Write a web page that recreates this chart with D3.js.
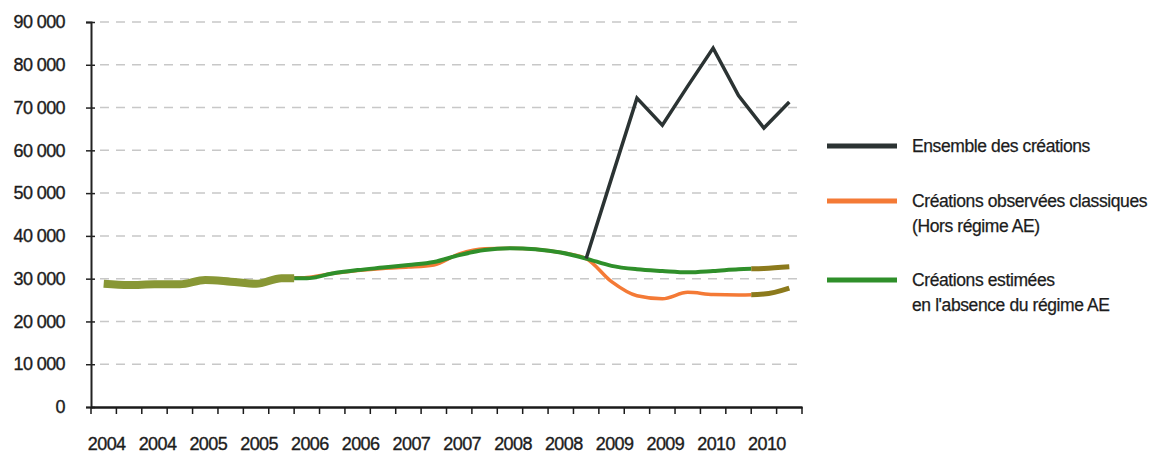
<!DOCTYPE html>
<html>
<head>
<meta charset="utf-8">
<script src="https://cdn.jsdelivr.net/npm/d3@7"></script>
<style>
  body { margin: 0; background: #fff; }
  svg { font-family: "Liberation Sans", Arial, sans-serif; }
  .tick text { fill: #1c1c1c; }
</style>
</head>
<body>
<svg id="chart"></svg>
<script>
// quarters 2004 T1 .. 2010 T4
const years = [2004, 2005, 2006, 2007, 2008, 2009, 2010];
const quarters = years.flatMap(y => [1, 2, 3, 4].map(q => `${y} T${q}`));
// one label every two quarters
const tickLabels = quarters.filter((d, i) => i % 2 === 0);
const yTicks = [0, 10000, 20000, 30000, 40000, 50000, 60000, 70000, 80000, 90000];

const classiques = [28800, 28500, 28700, 28700, 29700, 29300, 28800, 30100,
                    30300, 31200, 31900, 32400, 32700, 33200, 35800, 37000,
                    37100, 36850, 36100, 34700, 29300, 26000, 25300, 26800,
                    26300, 26200, 26400, 27800];
const estimees = [28800, 28500, 28700, 28700, 29700, 29300, 28800, 30100,
                  30100, 31200, 32000, 32600, 33200, 33900, 35500, 36700,
                  37100, 36850, 36100, 34700, 33000, 32200, 31800, 31500,
                  31800, 32200, 32400, 32800];
const ensemble = [null, null, null, null, null, null, null, null,
                  null, null, null, null, null, null, null, null,
                  null, null, null, 34700, 53500, 72200, 65900, 75000,
                  83900, 72800, 65200, 71300];

const legendLabels = [
    ["Ensemble des créations"],
    ["Créations observées classiques", "(Hors régime AE)"],
    ["Créations estimées", "en l'absence du régime AE"]
];

// first quarters shown as one merged line, last two as provisional
const mergedUntil = "2006 T1";
const provisionalFrom = "2010 T3";

const width = 1159, height = 457;
const colors = { ensemble: "#2b3333", classiques: "#f47a36", estimees: "#2f8f2a",
                 merged: "#889735", provisional: "#8c7a1c" };

const svg = d3.select("#chart").attr("width", width).attr("height", height);

const x = d3.scaleBand().domain(quarters).range([91, 802]).padding(0);
const y = d3.scaleLinear().domain([0, 90000]).range([407, 22]);
const cx = d => x(d) + x.bandwidth() / 2;

const fr = d3.formatLocale({ decimal: ",", thousands: " ", grouping: [3] }).format(",d");

// grid
svg.append("g").selectAll("line")
    .data(yTicks.filter(v => v > 0))
    .join("line")
    .attr("x1", x.range()[0] + 9).attr("x2", x.range()[1])
    .attr("y1", d => y(d)).attr("y2", d => y(d))
    .attr("stroke", "#c8c8c8").attr("stroke-width", 1.5)
    .attr("stroke-dasharray", "9 7");

// y axis
const yAxis = svg.append("g")
    .attr("transform", `translate(${x.range()[0]},0)`)
    .call(d3.axisLeft(y).tickValues(yTicks).tickFormat(fr).tickSize(5).tickPadding(20));
yAxis.select(".domain").attr("stroke", "#222").attr("stroke-width", 2);
yAxis.selectAll(".tick line").attr("x1", 4).attr("stroke", "#222").attr("stroke-width", 1.5);
yAxis.selectAll(".tick text").attr("x", -26).attr("font-size", 18).attr("letter-spacing", -0.6)
    .attr("stroke", "#1c1c1c").attr("stroke-width", 0.35);

// x axis
const xAxis = svg.append("g")
    .attr("transform", `translate(0,${y(0)})`)
    .call(d3.axisBottom(x).tickValues(tickLabels).tickFormat(d => d.slice(0, 4))
        .tickSize(0).tickPadding(30));
xAxis.select(".domain").attr("stroke", "#1a1a1a").attr("stroke-width", 2.5);
xAxis.selectAll(".tick text").attr("font-size", 18).attr("letter-spacing", -0.6)
    .attr("dx", 3).attr("stroke", "#1c1c1c").attr("stroke-width", 0.35);
xAxis.selectAll("line.edge")
    .data(quarters.map(q => x(q)).concat([x.range()[1]]))
    .join("line").attr("class", "edge")
    .attr("x1", d => d).attr("x2", d => d)
    .attr("y1", 0).attr("y2", 7)
    .attr("stroke", "#1a1a1a").attr("stroke-width", 1.5);

// lines
const smooth = d3.line()
    .defined(d => d.v != null)
    .x(d => cx(d.q)).y(d => y(d.v))
    .curve(d3.curveMonotoneX);
const straight = d3.line()
    .defined(d => d.v != null)
    .x(d => cx(d.q)).y(d => y(d.v));

const pts = arr => arr.map((v, i) => ({ q: quarters[i], v }));

const defs = svg.append("defs");
defs.append("clipPath").attr("id", "clipMain").append("rect")
    .attr("x", x(mergedUntil)).attr("y", 0)
    .attr("width", x(provisionalFrom) - x(mergedUntil)).attr("height", height);
defs.append("clipPath").attr("id", "clipStart").append("rect")
    .attr("x", 0).attr("y", 0).attr("width", x(mergedUntil)).attr("height", height);
defs.append("clipPath").attr("id", "clipEnd").append("rect")
    .attr("x", x(provisionalFrom)).attr("y", 0)
    .attr("width", width - x(provisionalFrom)).attr("height", height);

const plot = svg.append("g");

plot.append("path").datum(pts(classiques))
    .attr("clip-path", "url(#clipMain)")
    .attr("d", smooth).attr("fill", "none")
    .attr("stroke", colors.classiques).attr("stroke-width", 3.5);

plot.append("path").datum(pts(estimees))
    .attr("clip-path", "url(#clipMain)")
    .attr("d", smooth).attr("fill", "none")
    .attr("stroke", colors.estimees).attr("stroke-width", 4);

// merged start (all series equal)
plot.append("path").datum(pts(estimees))
    .attr("clip-path", "url(#clipStart)")
    .attr("d", smooth).attr("fill", "none")
    .attr("stroke", colors.merged).attr("stroke-width", 8);

// provisional end
[classiques, estimees].forEach(s => {
    plot.append("path").datum(pts(s))
        .attr("clip-path", "url(#clipEnd)")
        .attr("d", smooth).attr("fill", "none")
        .attr("stroke", colors.provisional).attr("stroke-width", 5);
});

plot.append("path").datum(pts(ensemble))
    .attr("d", straight).attr("fill", "none")
    .attr("stroke", colors.ensemble).attr("stroke-width", 3.5)
    .attr("stroke-linejoin", "miter");

// legend
const legendColors = [colors.ensemble, colors.classiques, colors.estimees];
const legendY = [146, 201, 280];
const legend = svg.append("g");
legendLabels.forEach((lines, i) => {
    const g = legend.append("g").attr("transform", `translate(827,${legendY[i]})`);
    g.append("line").attr("x1", 0).attr("x2", 70).attr("y1", 0).attr("y2", 0)
        .attr("stroke", legendColors[i]).attr("stroke-width", 5);
    lines.forEach((t, j) => {
        g.append("text").attr("x", 85).attr("y", 6 + j * 25)
            .attr("font-size", 17.5).attr("letter-spacing", -0.4)
            .attr("fill", "#1c1c1c").attr("stroke", "#1c1c1c").attr("stroke-width", 0.25)
            .text(t);
    });
});
</script>
</body>
</html>
